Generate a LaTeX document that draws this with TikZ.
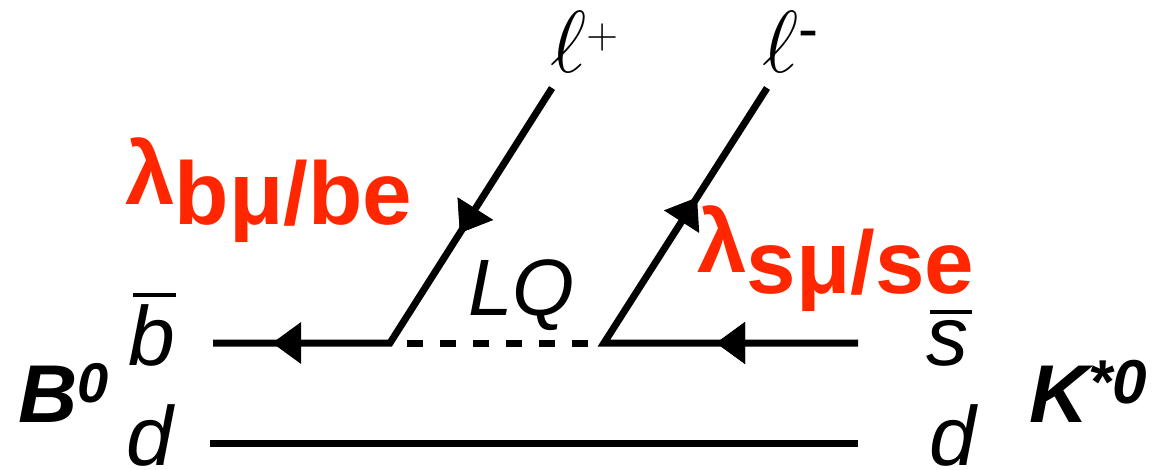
\RequirePackage{fix-cm}
\documentclass[tikz,border=0pt]{standalone}
\usepackage{fontspec}
\setmainfont{Liberation Sans}
\usetikzlibrary{arrows.meta,decorations.markings}
\definecolor{lqred}{RGB}{255,38,0}
\newcommand\barredglyph[4]{\leavevmode\rlap{\hspace{#1}\rule[#2]{#3}{4pt}}#4}
\tikzset{
  quark/.style={line width=7pt, line join=miter},
  fermtip/.style={decoration={markings,
      mark=at position #1 with {\arrow{Triangle[length=29pt,width=40pt]}}}, postaction={decorate}},
  fermtipb/.style={postaction={decorate, decoration={markings,
      mark=at position #1 with {\arrow{Triangle[length=29pt,width=40pt]}}}}},
  lqline/.style={line width=7pt, dash pattern=on 16pt off 17pt, dash phase=16pt},
  lab/.style={inner sep=0pt, anchor=base west, font=\fontsize{84}{84}\selectfont\itshape},
  lqlab/.style={inner sep=0pt, anchor=base west, font=\fontsize{80}{80}\selectfont\itshape},
  meson/.style={inner sep=0pt, anchor=base west, font=\fontsize{82}{82}\selectfont\bfseries\itshape},
  coup/.style={inner sep=0pt, anchor=base west, text=lqred, font=\fontsize{89}{89}\selectfont\bfseries},
  lep/.style={inner sep=0pt, anchor=base west, font=\fontsize{88}{88}\selectfont},
}
\begin{document}
\begin{tikzpicture}[x=1pt,y=-1pt]
\useasboundingbox (0,0) rectangle (1163,469);
% vertices and line ends
\coordinate (bL) at (213,343);
\coordinate (v1) at (390,343);
\coordinate (v2) at (604,343);
\coordinate (bR) at (858,343);
\coordinate (dL) at (210,443);
\coordinate (dR) at (858,443);
\coordinate (lp) at (552,88);
\coordinate (lm) at (767,88);
% fermion lines
\draw[quark, fermtip=172pt, fermtipb=420pt] (lp) -- (v1) -- (bL);
\draw[quark, fermtip=142pt, fermtipb=427pt] (bR) -- (v2) -- (lm);
\draw[lqline] (v1) -- (v2);
\draw[quark] (dL) -- (dR);
% labels
\node[lep] (lplus) at (550,72) {$\ell$\raisebox{24pt}{\fontsize{44}{44}\selectfont$+$}};
\node[lep] (lminus) at (762,72) {$\ell$\raisebox{23pt}{\fontsize{60}{60}\selectfont -}};
\node[coup] (lam1) at (125,204) {λ\raisebox{-20pt}{bμ/be}};
\node[coup] (lam2) at (697,272) {λ\raisebox{-21pt}{sμ/se}};
\node[lqlab] (LQ) at (468,315) {LQ};
\node[lab] (bbar) at (128,365) {\barredglyph{5pt}{68pt}{43pt}{b}};
\node[lab] (dl) at (126,465) {d};
\node[lab] (sbar) at (926,365) {\barredglyph{4pt}{51pt}{42pt}{s}};
\node[lab] (dr) at (929,465) {d};
\node[meson] (B) at (18,422) {B\raisebox{20pt}{\fontsize{56}{56}\selectfont 0}};
\node[meson] (K) at (1029,422) {K\raisebox{19pt}{\fontsize{62}{62}\selectfont *0}};
\end{tikzpicture}
\end{document}
